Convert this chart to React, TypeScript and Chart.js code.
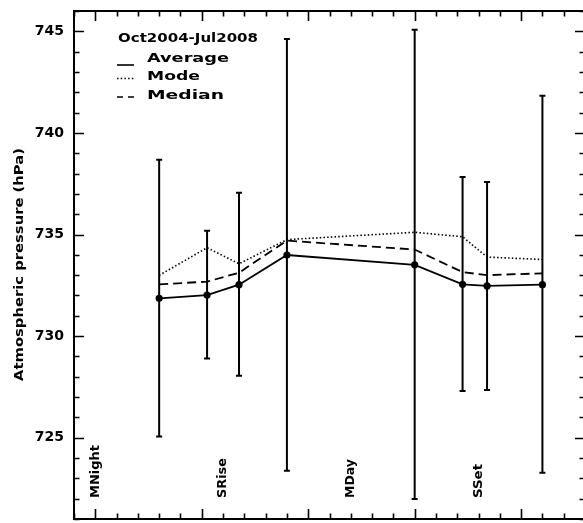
import React, { useEffect, useRef } from "react";
import { Chart, registerables } from "chart.js";

Chart.register(...registerables);

// ---- data ----
const hours = [3, 5.25, 6.75, 9, 15, 17.25, 18.4, 21];
const average = [731.86, 732.02, 732.53, 733.99, 733.51, 732.55, 732.47, 732.53];
const mode = [732.99, 734.35, 733.56, 734.75, 735.11, 734.89, 733.89, 733.77];
const median = [732.55, 732.68, 733.12, 734.7, 734.26, 733.15, 733.0, 733.09];
const upper = [738.68, 735.18, 737.06, 744.62, 745.08, 737.83, 737.58, 741.83];
const lower = [725.06, 728.9, 728.05, 723.37, 721.98, 727.3, 727.35, 723.27];
const yTicks = [725, 730, 735, 740, 745];
const periodLabels = ["MNight", "SRise", "MDay", "SSet"];
const periodHours = [0, 6, 12, 18];
const legendTitle = "Oct2004-Jul2008";
const seriesNames = ["Average", "Mode", "Median"];
const xMin = -1;
const xMax = 23;
const yMin = 721;
const yMax = 746;

const FONT = "'DejaVu Sans', 'Liberation Sans', sans-serif";

// draws text stretched horizontally to a target width
function fitText(ctx: CanvasRenderingContext2D, text: string, x: number, y: number, w: number) {
  const nat = ctx.measureText(text).width;
  const sx = w / nat;
  ctx.save();
  ctx.translate(x, y);
  ctx.scale(sx, 1);
  ctx.fillText(text, 0, 0);
  ctx.restore();
}

const framePlugin = {
  id: "frame",
  beforeDatasetsDraw(chart: any) {
    const ctx: CanvasRenderingContext2D = chart.ctx;
    const xs = chart.scales.x;
    const ys = chart.scales.y;
    ctx.save();
    ctx.strokeStyle = "#000";
    ctx.lineWidth = 2;
    for (let i = 0; i < hours.length; i++) {
      const px = xs.getPixelForValue(hours[i]);
      const pt = ys.getPixelForValue(upper[i]);
      const pb = ys.getPixelForValue(lower[i]);
      ctx.beginPath();
      ctx.moveTo(px, pt);
      ctx.lineTo(px, pb);
      ctx.moveTo(px - 3, pt);
      ctx.lineTo(px + 3, pt);
      ctx.moveTo(px - 3, pb);
      ctx.lineTo(px + 3, pb);
      ctx.stroke();
    }
    ctx.restore();
  },
  afterDraw(chart: any) {
    const ctx: CanvasRenderingContext2D = chart.ctx;
    const xs = chart.scales.x;
    const ys = chart.scales.y;
    const a = chart.chartArea;
    ctx.save();
    ctx.strokeStyle = "#000";
    ctx.fillStyle = "#000";
    // ticks
    ctx.lineWidth = 1.6;
    ctx.beginPath();
    for (let v = Math.ceil(yMin); v <= yMax; v++) {
      const py = Math.round(ys.getPixelForValue(v)) + 0.5;
      const len = v % 5 === 0 ? 10 : 5.5;
      ctx.moveTo(a.left, py);
      ctx.lineTo(a.left + len, py);
      ctx.moveTo(a.right, py);
      ctx.lineTo(a.right - len, py);
    }
    for (let v = xMin; v <= xMax; v++) {
      const px = Math.round(xs.getPixelForValue(v)) + 0.5;
      const len = v % 5 === 0 ? 10 : 5.5;
      ctx.moveTo(px, a.bottom);
      ctx.lineTo(px, a.bottom - len);
      ctx.moveTo(px, a.top);
      ctx.lineTo(px, a.top + len);
    }
    ctx.stroke();
    // frame
    ctx.lineWidth = 2;
    ctx.strokeRect(a.left, a.top, a.right - a.left, a.bottom - a.top);

    // y title
    ctx.font = `bold 12.5px ${FONT}`;
    ctx.textBaseline = "middle";
    ctx.textAlign = "left";
    ctx.save();
    ctx.translate(20, (a.top + a.bottom) / 2 + 116);
    ctx.rotate(-Math.PI / 2);
    fitText(ctx, "Atmospheric pressure (hPa)", 0, 0, 233);
    ctx.restore();

    // period labels
    ctx.font = `bold 12.5px ${FONT}`;
    const pw = [53, 40, 39, 34];
    for (let i = 0; i < periodLabels.length; i++) {
      const px = xs.getPixelForValue(periodHours[i]);
      ctx.save();
      ctx.translate(px, 498);
      ctx.rotate(-Math.PI / 2);
      fitText(ctx, periodLabels[i], 0, 0, pw[i]);
      ctx.restore();
    }

    // legend
    ctx.textBaseline = "alphabetic";
    ctx.font = `bold 11.5px ${FONT}`;
    fitText(ctx, legendTitle, 118, 42, 140);
    const rowsY = [62, 80, 98.5];
    const widths = [82, 53, 77];
    for (let i = 0; i < seriesNames.length; i++) {
      fitText(ctx, seriesNames[i], 147, rowsY[i], widths[i]);
    }
    ctx.lineWidth = 1.6;
    ctx.beginPath();
    ctx.moveTo(117, 65);
    ctx.lineTo(134, 65);
    ctx.stroke();
    ctx.setLineDash([1.5, 2.2]);
    ctx.beginPath();
    ctx.moveTo(117, 78.5);
    ctx.lineTo(134, 78.5);
    ctx.stroke();
    ctx.setLineDash([6, 5]);
    ctx.beginPath();
    ctx.moveTo(117, 97);
    ctx.lineTo(134, 97);
    ctx.stroke();
    ctx.restore();
  },
};

export default function App() {
  const ref = useRef<HTMLCanvasElement | null>(null);
  useEffect(() => {
    document.body.style.margin = "0";
    const canvas = ref.current!;
    const toPts = (arr: number[]) => hours.map((h, i) => ({ x: h, y: arr[i] }));
    const chart = new Chart(canvas, {
      type: "line",
      data: {
        datasets: [
          {
            label: seriesNames[0],
            data: toPts(average),
            borderColor: "#000",
            backgroundColor: "#000",
            borderWidth: 1.8,
            pointRadius: 3.6,
            pointBackgroundColor: "#000",
            pointBorderWidth: 0,
          },
          {
            label: seriesNames[1],
            data: toPts(mode),
            borderColor: "#000",
            borderWidth: 1.6,
            borderDash: [1.5, 2.2],
            pointRadius: 0,
          },
          {
            label: seriesNames[2],
            data: toPts(median),
            borderColor: "#000",
            borderWidth: 1.8,
            borderDash: [9, 5],
            pointRadius: 0,
          },
        ],
      },
      options: {
        animation: false,
        responsive: false,
        devicePixelRatio: 1,
        layout: { padding: { top: 11, bottom: 2, right: 15, left: 0 } },
        plugins: { legend: { display: false }, tooltip: { enabled: false } },
        scales: {
          x: {
            type: "linear",
            min: xMin,
            max: xMax,
            display: false,
          },
          y: {
            type: "linear",
            min: yMin,
            max: yMax,
            afterBuildTicks: (s: any) => {
              s.ticks = yTicks.map((v) => ({ value: v }));
            },
            afterFit: (s: any) => {
              s.width = 74;
              s.paddingTop = 0;
              s.paddingBottom = 0;
            },
            border: { display: false },
            grid: { display: false, drawTicks: false },
            ticks: {
              color: "#000",
              padding: 10,
              font: { family: FONT, weight: "bold", size: 14 },
            },
          },
        },
      },
      plugins: [framePlugin],
    });
    return () => chart.destroy();
  }, []);
  return (
    <div style={{ position: "absolute", left: 0, top: 0, width: 583, height: 523, overflow: "hidden", background: "#fff" }}>
      <canvas ref={ref} width={600} height={523} style={{ width: 600, height: 523, display: "block" }} />
    </div>
  );
}
